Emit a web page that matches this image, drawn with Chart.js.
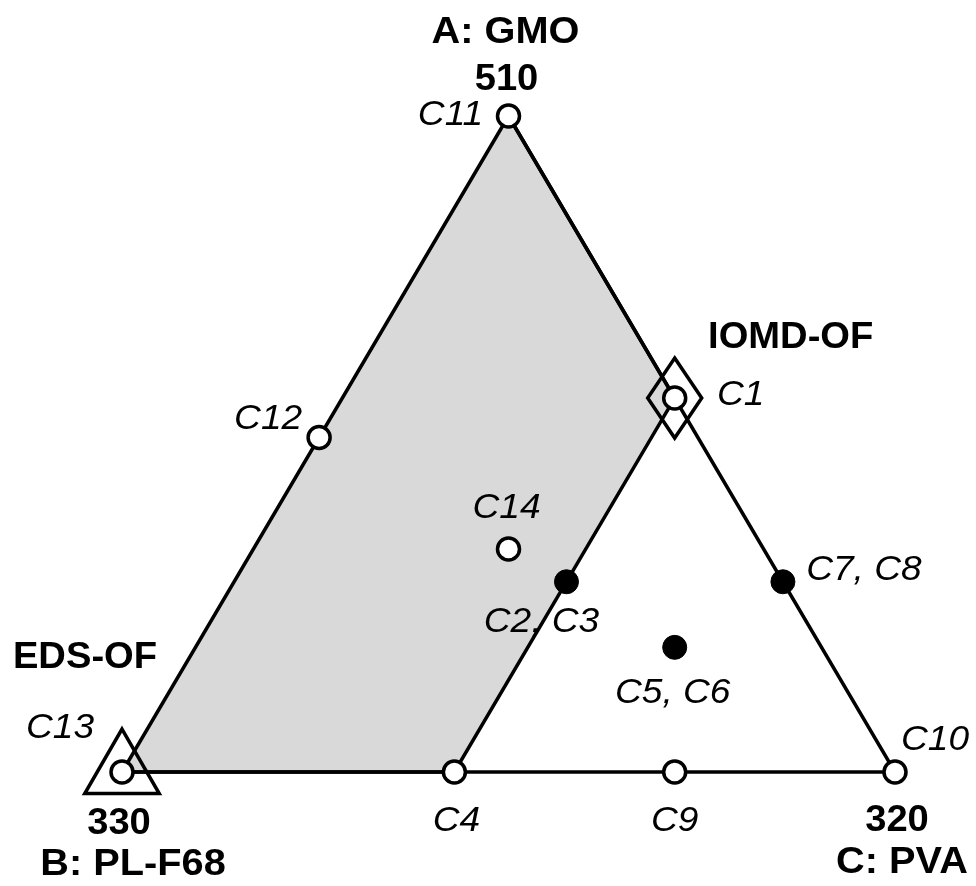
<!DOCTYPE html>
<html>
<head>
<meta charset="utf-8">
<title>Ternary mixture design: GMO / PL-F68 / PVA</title>
<script src="https://cdn.jsdelivr.net/npm/chart.js@4.4.1/dist/chart.umd.min.js"></script>
<style>
  html, body { margin: 0; padding: 0; background: #ffffff; }
  #wrap { width: 976px; height: 886px; }
</style>
</head>
<body>
<div id="wrap"><canvas id="ternary" width="976" height="886"></canvas></div>
<script>
// Components at the three corners (A top, B bottom-left, C bottom-right)
const components = ['A: GMO', 'B: PL-F68', 'C: PVA'];
const vertexCodes = ['510', '330', '320'];

// Formulation runs, as mass fractions of A, B and C
const runs  = ['C1', 'C2, C3', 'C4', 'C5, C6', 'C7, C8', 'C9', 'C10', 'C11', 'C12', 'C13', 'C14'];
const fracA = [0.57, 0.29, 0.00, 0.19, 0.29, 0.000, 0, 1, 0.51, 0, 0.34];
const fracB = [0.00, 0.28, 0.57, 0.19, 0.00, 0.285, 0, 0, 0.49, 1, 0.33];
const fracC = [0.43, 0.43, 0.43, 0.62, 0.71, 0.715, 1, 0, 0.00, 0, 0.33];

// Replicated runs are drawn as filled dots
const replicated = ['C2, C3', 'C5, C6', 'C7, C8'];

// Shaded region corners (A fractions, B fractions, C fractions)
const regionA = [1, 0.57, 0.00, 0];
const regionB = [0, 0.00, 0.57, 1];
const regionC = [0, 0.43, 0.43, 0];

// Optimised formulations and the run each one coincides with
const optimisedNames = ['IOMD-OF', 'EDS-OF'];
const optimisedRuns  = ['C1', 'C13'];

// ---- ternary -> cartesian (A at apex, B left, C right) ----
function toXY(a, b, c) {
  const s = a + b + c;
  return { x: (c + a / 2) / s, y: a / s };
}
const runXY = runs.map((r, i) => toXY(fracA[i], fracB[i], fracC[i]));
const runPoint = name => runXY[runs.indexOf(name)];
const cornerXY = [toXY(1, 0, 0), toXY(0, 1, 0), toXY(0, 0, 1)];
const regionXY = regionA.map((a, i) => toXY(a, regionB[i], regionC[i]));

// ---- label layout (pixel offsets from the anchor point) ----
const runLabelOffset = {
  'C1': [66, -6], 'C2, C3': [-25, 38], 'C4': [2, 46], 'C5, C6': [-2, 43],
  'C7, C8': [81, -14], 'C9': [0, 46], 'C10': [40, -35], 'C11': [-58, -4],
  'C12': [-51, -21], 'C13': [-62, -47], 'C14': [-2, -43]
};
const cornerNameOffset = [[-3, -86], [11, 90], [7, 88]];
const cornerCodeOffset = [[-2, -39], [-3, 49], [2, 46]];
const optimisedOffset = [[116, -63], [-37, -117]];

const FONT = '"Liberation Sans", Arial, Helvetica, sans-serif';
const STRETCH = 1.06;
const LINE = 3.5;

// Tall open diamond drawn around the points of datasets flagged with `diamond`
const diamondMarkers = {
  id: 'diamondMarkers',
  afterDatasetDraw(chart, args) {
    const ds = chart.data.datasets[args.index];
    if (!ds.diamond) return;
    const { ctx } = chart;
    const [hw, hh] = ds.diamond;
    ctx.save();
    ctx.strokeStyle = '#000000';
    ctx.lineWidth = LINE;
    ctx.lineJoin = 'miter';
    for (const el of args.meta.data) {
      ctx.beginPath();
      ctx.moveTo(el.x, el.y - hh);
      ctx.lineTo(el.x + hw, el.y);
      ctx.lineTo(el.x, el.y + hh);
      ctx.lineTo(el.x - hw, el.y);
      ctx.closePath();
      ctx.stroke();
    }
    ctx.restore();
  }
};

// Draws all text labels, anchored to points through the chart scales
const ternaryLabels = {
  id: 'ternaryLabels',
  afterDraw(chart) {
    const { ctx, scales } = chart;
    const px = p => [scales.x.getPixelForValue(p.x), scales.y.getPixelForValue(p.y)];
    const put = (text, anchor, off, style, size) => {
      const [x, y] = px(anchor);
      ctx.save();
      ctx.font = style + ' ' + size + 'px ' + FONT;
      ctx.fillStyle = '#000';
      ctx.textAlign = 'center';
      ctx.textBaseline = 'alphabetic';
      ctx.translate(x + off[0], y + off[1] + 0.358 * size);
      ctx.scale(STRETCH, 1);
      ctx.fillText(text, 0, 0);
      ctx.restore();
    };
    runs.forEach(r => put(r, runPoint(r), runLabelOffset[r], 'italic', 35));
    components.forEach((t, i) => put(t, cornerXY[i], cornerNameOffset[i], 'bold', 37.5));
    vertexCodes.forEach((t, i) => put(t, cornerXY[i], cornerCodeOffset[i], 'bold', 36));
    optimisedNames.forEach((t, i) => put(t, runPoint(optimisedRuns[i]), optimisedOffset[i], 'bold', 36));
  }
};

const openRuns = runs.filter(r => !replicated.includes(r));

new Chart(document.getElementById('ternary'), {
  type: 'scatter',
  data: {
    datasets: [
      {
        label: 'open runs',
        data: openRuns.map(runPoint),
        pointRadius: 11,
        pointBorderWidth: LINE,
        pointBackgroundColor: '#ffffff',
        pointBorderColor: '#000000',
        clip: false,
        order: 1
      },
      {
        label: 'replicated runs',
        data: replicated.map(runPoint),
        pointRadius: 12,
        pointBorderWidth: 1,
        pointBackgroundColor: '#000000',
        pointBorderColor: '#000000',
        clip: false,
        order: 1
      },
      {
        label: 'IOMD-OF',
        data: [runPoint(optimisedRuns[0])],
        diamond: [27, 40],
        pointRadius: 0,
        clip: false,
        order: 3
      },
      {
        label: 'EDS-OF',
        data: [runPoint(optimisedRuns[1])],
        pointStyle: 'triangle',
        pointRadius: 43,
        pointBorderWidth: LINE,
        pointBorderColor: '#000000',
        pointBackgroundColor: 'rgba(0,0,0,0)',
        clip: false,
        order: 3
      },
      {
        label: 'triangle',
        data: [cornerXY[0], cornerXY[1], cornerXY[2], cornerXY[0]],
        showLine: true,
        borderColor: '#000000',
        borderWidth: LINE,
        pointRadius: 0,
        fill: false,
        clip: false,
        order: 8
      },
      {
        label: 'region',
        data: regionXY,
        showLine: true,
        borderColor: '#000000',
        borderWidth: LINE,
        backgroundColor: '#d9d9d9',
        fill: 'shape',
        pointRadius: 0,
        clip: false,
        order: 9
      }
    ]
  },
  options: {
    responsive: false,
    animation: false,
    events: [],
    layout: { padding: { left: 122, right: 81, top: 116, bottom: 114 } },
    scales: {
      x: { type: 'linear', min: 0, max: 1, display: false },
      y: { type: 'linear', min: 0, max: 1, display: false }
    },
    plugins: {
      legend: { display: false },
      tooltip: { enabled: false }
    }
  },
  plugins: [diamondMarkers, ternaryLabels]
});
</script>
</body>
</html>
